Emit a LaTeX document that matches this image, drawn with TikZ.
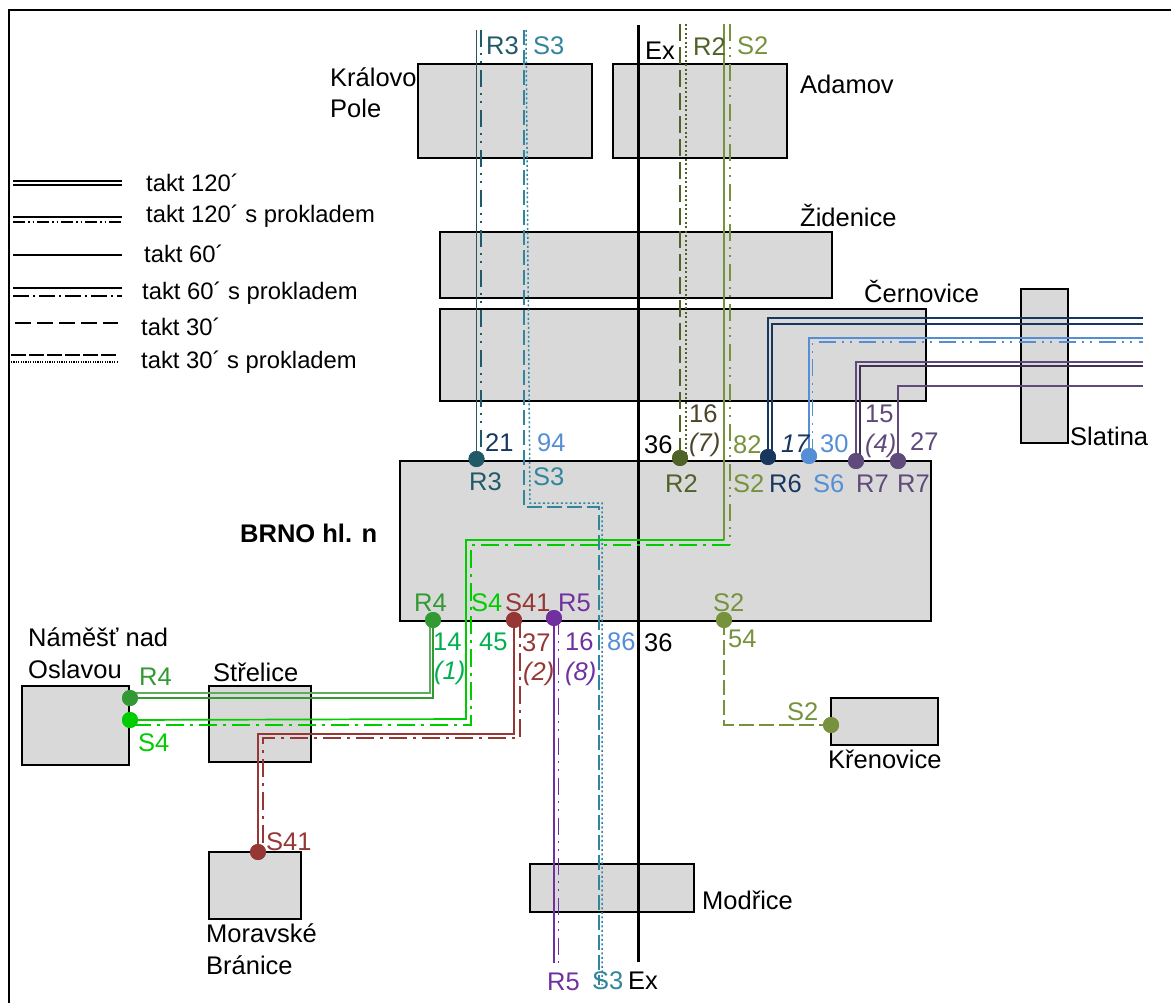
\documentclass[tikz,border=0pt]{standalone}
\usepackage{fontspec}
\setmainfont{Liberation Sans}
\definecolor{boxg}{HTML}{D9D9D9}
\definecolor{cRiii}{HTML}{215968}
\definecolor{cSiii}{HTML}{31859C}
\definecolor{cRii}{HTML}{4F6228}
\definecolor{cSii}{HTML}{76923C}
\definecolor{cRvi}{HTML}{17375E}
\definecolor{cSvi}{HTML}{558ED5}
\definecolor{cRvii}{HTML}{604A7B}
\definecolor{cRviid}{HTML}{403152}
\definecolor{cRiv}{HTML}{339933}
\definecolor{cSiv}{HTML}{00CC00}
\definecolor{cSxli}{HTML}{953735}
\definecolor{cRv}{HTML}{7030A0}
\definecolor{cNum}{HTML}{00B050}
\definecolor{cBrown}{HTML}{4A452A}
\tikzset{
  x=1pt,y=-1pt,
  stn/.style={draw=black,line width=2pt,fill=boxg},
  txt/.style={anchor=base west,inner sep=0pt,font=\fontsize{25.5}{30}\selectfont},
  leg/.style={anchor=base west,inner sep=0pt,font=\fontsize{23.8}{28}\selectfont},
  dotn/.style={circle,fill=#1,draw=none,minimum size=16pt,inner sep=0pt},
  ln/.style={line width=1.7pt},
  ddd/.style={line width=1.7pt,dash pattern=on 17pt off 6pt on 2pt off 6pt on 2pt off 7pt},
  dd/.style={line width=1.7pt,dash pattern=on 18pt off 6pt on 3pt off 6pt},
  dsh/.style={line width=1.7pt,dash pattern=on 17pt off 6pt},
  dtt/.style={line width=1.5pt,dash pattern=on 2pt off 2.5pt},
  lg/.style={line width=1.2pt,black},
}
\begin{document}
\begin{tikzpicture}
\useasboundingbox (0,0) rectangle (1171,1003);
% frame
\coordinate (fa) at (9,1003); \coordinate (fb) at (9,10); \coordinate (fc) at (1171,10);
\draw[line width=2pt,black] (fa) -- (fb) -- (fc);
% stations
\node[stn,minimum width=174pt,minimum height=94pt,inner sep=0pt] (kp) at (505,111) {};
\node[stn,minimum width=174pt,minimum height=94pt,inner sep=0pt] (ad) at (700,111) {};
\node[stn,minimum width=392pt,minimum height=66pt,inner sep=0pt] (zi) at (636,265) {};
\node[stn,minimum width=486pt,minimum height=92pt,inner sep=0pt] (ce) at (683,355) {};
\node[stn,minimum width=47pt,minimum height=154pt,inner sep=0pt] (sl) at (1044.5,366) {};
\node[stn,minimum width=531pt,minimum height=160pt,inner sep=0pt] (br) at (665.5,541) {};
\node[stn,minimum width=107pt,minimum height=79pt,inner sep=0pt] (na) at (75.5,725.5) {};
\node[stn,minimum width=102pt,minimum height=76pt,inner sep=0pt] (st) at (260,724) {};
\node[stn,minimum width=92pt,minimum height=67pt,inner sep=0pt] (mb) at (255,885.5) {};
\node[stn,minimum width=164pt,minimum height=48pt,inner sep=0pt] (mo) at (612,888) {};
\node[stn,minimum width=107pt,minimum height=47pt,inner sep=0pt] (kr) at (884.5,721.5) {};
% stops
\node[dotn=cRiii] (dR3) at (476.5,459) {};
\node[dotn=cRii] (dR2) at (680,458) {};
\node[dotn=cRvi] (dR6) at (768,457) {};
\node[dotn=cSvi] (dS6) at (809,456) {};
\node[dotn=cRvii] (dR7a) at (856,461) {};
\node[dotn=cRvii] (dR7b) at (898,461) {};
\node[dotn=cRiv] (dR4) at (433,620) {};
\node[dotn=cSxli] (dS41) at (514,620) {};
\node[dotn=cRv] (dR5) at (554,618) {};
\node[dotn=cSii] (dS2s) at (724,620) {};
\node[dotn=cSii] (dS2k) at (831,725) {};
\node[dotn=cRiv] (dR4n) at (130,698) {};
\node[dotn=cSiv] (dS4n) at (130,720) {};
\node[dotn=cSxli] (dS41m) at (258,852) {};
% free ends
\coordinate (R3t) at (476.5,30); \coordinate (R3dt) at (481,30); \coordinate (R3db) at (481,459);
\coordinate (S3at) at (524,30); \coordinate (S3ab) at (524,507); \coordinate (S3ar) at (599,507); \coordinate (S3ae) at (599,985);
\coordinate (S3bt) at (526,30); \coordinate (S3bb) at (530,503); \coordinate (S3br) at (602,503); \coordinate (S3be) at (602,985);
\coordinate (Ext) at (638,25); \coordinate (Exb) at (638,962);
\coordinate (R2t) at (680,24); \coordinate (R2dt) at (686,24); \coordinate (R2db) at (686,458);
\coordinate (S2t) at (724,24); \coordinate (S2c) at (724,540); \coordinate (S2dt) at (730,24); \coordinate (S2dc) at (730,545);
\coordinate (S4a) at (466,540); \coordinate (S4b) at (466,719); \coordinate (S4da) at (471,545); \coordinate (S4db) at (471,725); \coordinate (S4de) at (130,725);
\coordinate (R4a) at (430,620); \coordinate (R4b) at (430,693); \coordinate (R4c) at (130,693);
\coordinate (R4d) at (433,698);
\coordinate (S41a) at (514,734); \coordinate (S41b) at (258,734);
\coordinate (S41da) at (520,620); \coordinate (S41db) at (520,738); \coordinate (S41dc) at (263,738); \coordinate (S41dd) at (263,848);
\coordinate (R5e) at (554,963); \coordinate (R5da) at (558.5,618); \coordinate (R5de) at (558.5,966);
\coordinate (R6a) at (768,318); \coordinate (R6e) at (1143,318);
\coordinate (R6da) at (772,457); \coordinate (R6db) at (772,324); \coordinate (R6de) at (1143,324);
\coordinate (S6a) at (809,338); \coordinate (S6e) at (1143,338);
\coordinate (S6da) at (812.5,456); \coordinate (S6db) at (812.5,342); \coordinate (S6de) at (1143,342);
\coordinate (R7a) at (856,362); \coordinate (R7e) at (1143,362);
\coordinate (R7da) at (860,461); \coordinate (R7db) at (860,366); \coordinate (R7de) at (1143,366);
\coordinate (R7ba) at (898,386); \coordinate (R7be) at (1143,386);
\coordinate (S2ka) at (724,725);
% routes
\draw[ln,cRiii] (dR3.center) -- (R3t);
\draw[ddd,cRiii] (R3dt) -- (R3db);
\draw[dsh,cSiii,dash pattern=on 15pt off 5pt] (S3at) -- (S3ab) -- (S3ar) -- (S3ae);
\draw[dtt,cSiii] (S3bt) -- (S3bb) -- (S3br) -- (S3be);
\draw[line width=3pt,black] (Ext) -- (Exb);
\draw[dsh,cRii] (R2t) -- (dR2.center);
\draw[dtt,cRii] (R2dt) -- (R2db);
\draw[ln,cSii] (S2t) -- (S2c);
\draw[ddd,cSii] (S2dt) -- (S2dc);
\draw[ln,cSiv] (S2c) -- (S4a) -- (S4b) -- (dS4n.center);
\draw[dd,cSiv] (S2dc) -- (S4da) -- (S4db) -- (S4de);
\draw[ln,cSii,dash pattern=on 15pt off 5pt] (dS2s.center) -- (S2ka) -- (dS2k.center);
\draw[line width=1.4pt,cRiv!80] (R4a) -- (R4b) -- (R4c);
\draw[ln,cRiv] (dR4.center) -- (R4d) -- (dR4n.center);
\draw[ln,cSxli] (dS41.center) -- (S41a) -- (S41b) -- (dS41m.center);
\draw[dd,cSxli] (S41da) -- (S41db) -- (S41dc) -- (S41dd);
\draw[ln,cRv] (dR5.center) -- (R5e);
\draw[ddd,cRv] (R5da) -- (R5de);
\draw[ln,cRvi] (dR6.center) -- (R6a) -- (R6e);
\draw[ln,cRvi] (R6da) -- (R6db) -- (R6de);
\draw[ln,cSvi] (dS6.center) -- (S6a) -- (S6e);
\draw[ddd,cSvi] (S6da) -- (S6db) -- (S6de);
\draw[ln,cRvii] (dR7a.center) -- (R7a) -- (R7e);
\draw[ln,cRviid] (R7da) -- (R7db) -- (R7de);
\draw[ln,cRvii] (dR7b.center) -- (R7ba) -- (R7be);
% redraw stops on top
\foreach \n/\c in {dR3/cRiii,dR2/cRii,dR6/cRvi,dS6/cSvi,dR7a/cRvii,dR7b/cRvii,dR4/cRiv,dS41/cSxli,dR5/cRv,dS2s/cSii,dS2k/cSii,dR4n/cRiv,dS4n/cSiv,dS41m/cSxli}
  \fill[\c] (\n.center) circle (8pt);
% place names
\node[txt] (tKP1) at (330,87) {Královo};
\node[txt] (tKP2) at (330,118) {Pole};
\node[txt] (tAd) at (800,94) {Adamov};
\node[txt] (tZi) at (800,227) {Židenice};
\node[txt] (tCe) at (864,302) {Černovice};
\node[txt] (tSl) at (1070,445) {Slatina};
\node[txt,font=\fontsize{25.5}{30}\selectfont\bfseries] (tBr) at (240,542) {BRNO hl. n};
\node[txt] (tNa1) at (28,646) {Náměšť nad};
\node[txt] (tNa2) at (28,678) {Oslavou};
\node[txt] (tSt) at (213,681) {Střelice};
\node[txt] (tMb1) at (206,942) {Moravské};
\node[txt] (tMb2) at (206,974) {Bránice};
\node[txt] (tMo) at (702,909) {Modřice};
\node[txt] (tKr) at (828,768) {Křenovice};
% legend
\coordinate (l1a) at (13,181); \coordinate (l1b) at (122,181);
\coordinate (l1c) at (13,185); \coordinate (l1d) at (122,185);
\coordinate (l2a) at (13,217); \coordinate (l2b) at (122,217);
\coordinate (l2c) at (13,222); \coordinate (l2d) at (122,222);
\coordinate (l3a) at (13,255); \coordinate (l3b) at (122,255);
\coordinate (l4a) at (13,288); \coordinate (l4b) at (122,288);
\coordinate (l4c) at (13,296); \coordinate (l4d) at (122,296);
\coordinate (l5a) at (15,323); \coordinate (l5b) at (118,323);
\coordinate (l6a) at (11,355); \coordinate (l6b) at (118,355);
\coordinate (l6c) at (11,362); \coordinate (l6d) at (118,362);
\draw[lg] (l1a) -- (l1b); \draw[lg] (l1c) -- (l1d);
\draw[lg] (l2a) -- (l2b); \draw[lg,dash pattern=on 12pt off 3pt on 1.5pt off 3pt on 1.5pt off 3pt] (l2c) -- (l2d);
\draw[lg,line width=1.5pt] (l3a) -- (l3b);
\draw[lg,line width=1.7pt] (l4a) -- (l4b); \draw[lg,line width=1.5pt,dash pattern=on 16pt off 4pt on 2pt off 4pt] (l4c) -- (l4d);
\draw[lg,line width=1.5pt,dash pattern=on 16pt off 6pt] (l5a) -- (l5b);
\draw[lg,line width=1.5pt,dash pattern=on 15pt off 3pt] (l6a) -- (l6b); \draw[lg,dash pattern=on 1.2pt off 1.2pt] (l6c) -- (l6d);
\node[leg] (g1) at (146,192) {takt 120´};
\node[leg] (g2) at (146,223) {takt 120´ s prokladem};
\node[leg] (g3) at (144,263) {takt 60´};
\node[leg] (g4) at (142,300) {takt 60´ s prokladem};
\node[leg] (g5) at (141,335) {takt 30´};
\node[leg] (g6) at (141,368) {takt 30´ s prokladem};
% line labels
\node[txt,text=cRiii] (a1) at (486,55) {R3};
\node[txt,text=cSiii] (a2) at (533,55) {S3};
\node[txt,text=black] (a3) at (645,60) {Ex};
\node[txt,text=cRii] (a4) at (693,56) {R2};
\node[txt,text=cSii] (a5) at (737,55) {S2};
\node[txt,text=cRvi] (b1) at (485,451) {21};
\node[txt,text=cSvi] (b2) at (537,451) {94};
\node[txt,text=black] (b3) at (644,453) {36};
\node[txt,text=cBrown] (b4) at (689,422) {16};
\node[txt,text=cBrown,font=\fontsize{25.5}{30}\selectfont\itshape] (b5) at (689,451) {(7)};
\node[txt,text=cSii] (b6) at (733,453) {82};
\node[txt,text=cRvi,font=\fontsize{25.5}{30}\selectfont\itshape] (b7) at (781,452) {17};
\node[txt,text=cSvi] (b8) at (820,452) {30};
\node[txt,text=cRvii] (b9) at (865,422) {15};
\node[txt,text=cRvii,font=\fontsize{25.5}{30}\selectfont\itshape] (b10) at (865,452) {(4)};
\node[txt,text=cRvii] (b11) at (910,450) {27};
\node[txt,text=cRiii] (c1) at (469,490) {R3};
\node[txt,text=cSiii] (c2) at (533,485) {S3};
\node[txt,text=cRii] (c3) at (665,492) {R2};
\node[txt,text=cSii] (c4) at (733,492) {S2};
\node[txt,text=cRvi] (c5) at (769,492) {R6};
\node[txt,text=cSvi] (c6) at (813,492) {S6};
\node[txt,text=cRvii] (c7) at (856,492) {R7};
\node[txt,text=cRvii] (c8) at (897,492) {R7};
\node[txt,text=cRiv] (d1) at (414,611) {R4};
\node[txt,text=cSiv] (d2) at (471,611) {S4};
\node[txt,text=cSxli] (d3) at (505,611) {S41};
\node[txt,text=cRv] (d4) at (558,611) {R5};
\node[txt,text=cSii] (d5) at (713,611) {S2};
\node[txt,text=cNum] (e1) at (433,650) {14};
\node[txt,text=cNum,font=\fontsize{25.5}{30}\selectfont\itshape] (e2) at (434,679) {(1)};
\node[txt,text=cNum] (e3) at (479,650) {45};
\node[txt,text=cSxli] (e4) at (522,651) {37};
\node[txt,text=cSxli,font=\fontsize{25.5}{30}\selectfont\itshape] (e5) at (523,680) {(2)};
\node[txt,text=cRv] (e6) at (565,650) {16};
\node[txt,text=cRv,font=\fontsize{25.5}{30}\selectfont\itshape] (e7) at (565,680) {(8)};
\node[txt,text=cSvi] (e8) at (607,650) {86};
\node[txt,text=black] (e9) at (644,651) {36};
\node[txt,text=cSii] (e10) at (728,647) {54};
\node[txt,text=cSii] (e11) at (787,720) {S2};
\node[txt,text=cRiv] (f1) at (139,685) {R4};
\node[txt,text=cSiv] (f2) at (138,751) {S4};
\node[txt,text=cSxli] (f3) at (266,850) {S41};
\node[txt,text=cRv] (f4) at (547,990) {R5};
\node[txt,text=cSiii] (f5) at (592,989) {S3};
\node[txt,text=black] (f6) at (628,989) {Ex};
\end{tikzpicture}
\end{document}
